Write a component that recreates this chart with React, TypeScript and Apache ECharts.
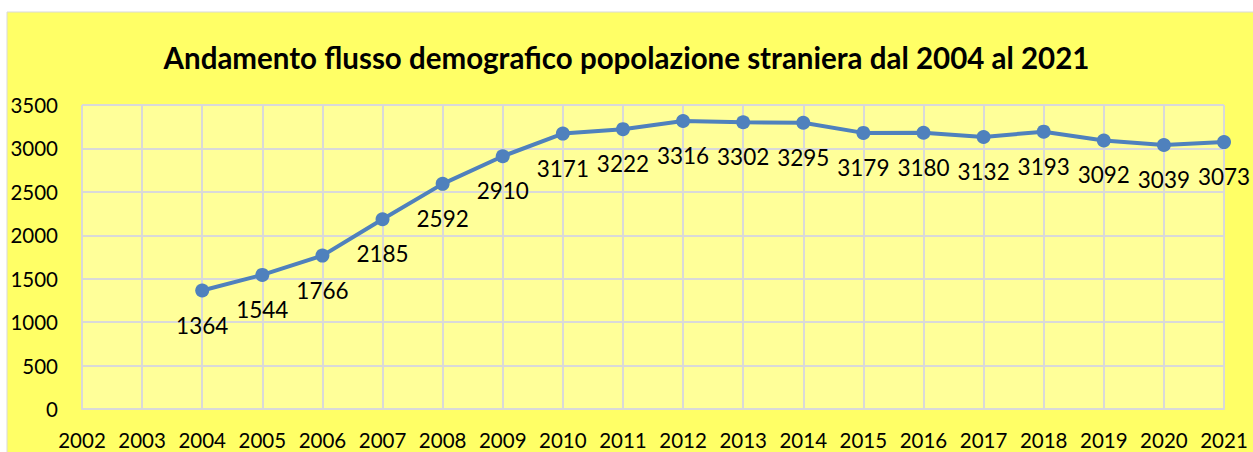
import React, { useEffect, useRef } from "react";
import * as echarts from "echarts";

const years = ["2002","2003","2004","2005","2006","2007","2008","2009","2010","2011","2012","2013","2014","2015","2016","2017","2018","2019","2020","2021"];
const population = [null, null, 1364, 1544, 1766, 2185, 2592, 2910, 3171, 3222, 3316, 3302, 3295, 3179, 3180, 3132, 3193, 3092, 3039, 3073];
const titleText = "Andamento flusso demografico popolazione straniera dal 2004 al 2021";

export default function App() {
  const ref = useRef<HTMLDivElement>(null);
  useEffect(() => {
    const chart = echarts.init(ref.current!, null, { renderer: "svg" });
    chart.setOption({
      animation: false,
      backgroundColor: "#ffffff",
      graphic: [
        {
          type: "rect",
          shape: { x: 7, y: 12, width: 1260, height: 460 },
          style: { fill: "#FFFF66", stroke: "#D9D9D9", lineWidth: 1 },
          z: -10,
        },
      ],
      title: {
        text: titleText,
        left: "center",
        top: 37,
        textStyle: { fontFamily: "Lato", fontWeight: "bold", fontSize: 29.5, color: "#000" },
      },
      grid: {
        left: 82,
        right: 29,
        top: 105,
        bottom: 43,
        show: true,
        backgroundColor: "#FFFF99",
        borderWidth: 0,
      },
      xAxis: {
        type: "category",
        data: years,
        boundaryGap: false,
        axisLine: { show: true, lineStyle: { color: "#D9D9D9", width: 2 } },
        axisTick: { show: false },
        splitLine: { show: true, lineStyle: { color: "#D9D9D9", width: 2 } },
        axisLabel: { fontFamily: "Lato", fontSize: 20.5, color: "#000", margin: 20, interval: 0 },
      },
      yAxis: {
        type: "value",
        min: 0,
        max: 3500,
        interval: 500,
        axisLine: { show: false },
        axisTick: { show: false },
        splitLine: { show: true, lineStyle: { color: "#D9D9D9", width: 2 } },
        axisLabel: {
          fontFamily: "Lato",
          fontSize: 20.5,
          color: "#000",
          margin: 24,
          formatter: (v: number) => String(v),
        },
      },
      series: [
        {
          type: "line",
          data: population,
          symbol: "circle",
          symbolSize: 14,
          lineStyle: { color: "#4F81BD", width: 4 },
          itemStyle: { color: "#4F81BD" },
          label: {
            show: true,
            position: "bottom",
            distance: 16,
            fontFamily: "Lato",
            fontSize: 22.5,
            color: "#000",
          },
        },
      ],
    });
    return () => chart.dispose();
  }, []);
  return <div ref={ref} style={{ position: "absolute", left: 0, top: 0, width: 1253, height: 452 }} />;
}
